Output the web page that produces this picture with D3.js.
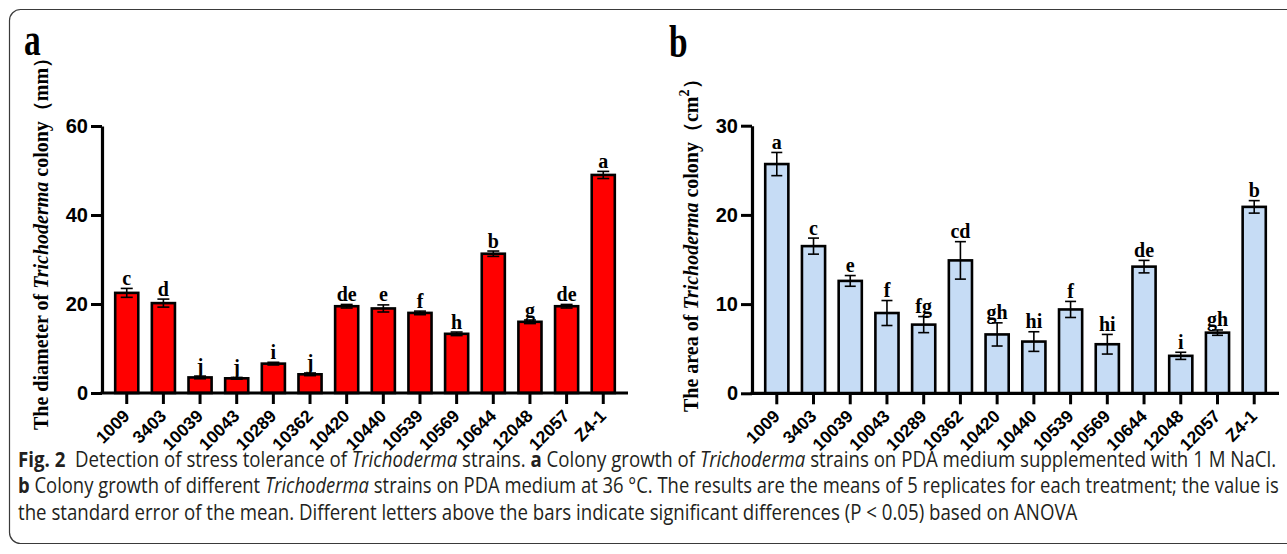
<!DOCTYPE html>
<html><head><meta charset="utf-8">
<script src="https://cdn.jsdelivr.net/npm/d3@7"></script>
<style>
html,body{margin:0;padding:0;background:#fff;}
svg{display:block;}
</style></head>
<body>
<svg id="chart" width="1287" height="554"></svg>
<script>
const categories = ["1009","3403","10039","10043","10289","10362","10420","10440","10539","10569","10644","12048","12057","Z4-1"];
const diameterMeans = [22.5,20.2,3.5,3.3,6.6,4.2,19.5,19.0,18.0,13.3,31.3,16.0,19.5,49.0];
const diameterErrors = [1.0,0.9,0.3,0.2,0.3,0.3,0.4,0.8,0.4,0.4,0.6,0.4,0.4,0.8];
const diameterLetters = ["c","d","j","j","i","j","de","e","f","h","b","g","de","a"];
const diameterTicks = [0,20,40,60];
const areaMeans = [25.7,16.5,12.6,9.0,7.7,14.9,6.6,5.8,9.4,5.5,14.2,4.2,6.8,20.9];
const areaErrors = [1.3,0.9,0.6,1.4,0.9,2.1,1.3,1.1,0.9,1.1,0.7,0.4,0.3,0.7];
const areaLetters = ["a","c","e","f","fg","cd","gh","hi","f","hi","de","i","gh","b"];
const areaTicks = [0,10,20,30];

const svg = d3.select("#chart");

// outer rounded frame
svg.append("rect").attr("x",9.5).attr("y",9.5).attr("width",1300).attr("height",534)
  .attr("rx",11).attr("fill","none").attr("stroke","#3a3a3a").attr("stroke-width",1.2);

const sansBold = "'Liberation Sans', Arial, sans-serif";
const serif = "'Liberation Serif', 'Times New Roman', serif";

function panel(opt){
  const g = svg.append("g");
  const x = d3.scaleBand().domain(categories).range([opt.x0, opt.x1]).paddingInner(0.37).paddingOuter(0.36);
  const y = d3.scaleLinear().domain([0, opt.ymax]).range([opt.yb, opt.yt]);

  g.selectAll("rect.bar").data(categories).enter().append("rect")
    .attr("x", d=>x(d)).attr("width", x.bandwidth())
    .attr("y", (d,i)=>y(opt.means[i])).attr("height",(d,i)=>y(0)-y(opt.means[i]))
    .attr("fill", opt.fill).attr("stroke","#000").attr("stroke-width",2.6);

  const eb = g.selectAll("g.eb").data(categories).enter().append("g");
  const cap = opt.cap;
  const cx = d=>x(d)+x.bandwidth()/2;
  eb.append("line").attr("x1",cx).attr("x2",cx)
    .attr("y1",(d,i)=>y(opt.means[i]+opt.errs[i])).attr("y2",(d,i)=>y(opt.means[i]-opt.errs[i]))
    .attr("stroke","#000").attr("stroke-width",1.6);
  eb.append("line").attr("x1",d=>cx(d)-cap/2).attr("x2",d=>cx(d)+cap/2)
    .attr("y1",(d,i)=>y(opt.means[i]+opt.errs[i])).attr("y2",(d,i)=>y(opt.means[i]+opt.errs[i]))
    .attr("stroke","#000").attr("stroke-width",1.6);
  eb.append("line").attr("x1",d=>cx(d)-cap/2).attr("x2",d=>cx(d)+cap/2)
    .attr("y1",(d,i)=>y(opt.means[i]-opt.errs[i])).attr("y2",(d,i)=>y(opt.means[i]-opt.errs[i]))
    .attr("stroke","#000").attr("stroke-width",1.6);

  g.selectAll("text.sig").data(categories).enter().append("text")
    .attr("x", cx)
    .attr("y", (d,i)=>y(opt.means[i]+opt.errs[i]) - 3.5)
    .attr("text-anchor","middle").attr("font-family",serif).attr("font-weight","bold")
    .attr("font-size",20).attr("fill","#000").text((d,i)=>opt.letters[i]);

  const ya = g.append("g").attr("transform",`translate(${opt.x0},0)`)
    .call(d3.axisLeft(y).tickValues(opt.ticks).tickSize(11).tickPadding(3).tickSizeOuter(0));
  ya.select(".domain").attr("stroke","#000").attr("stroke-width",3.2);
  ya.selectAll(".tick line").attr("stroke","#000").attr("stroke-width",3);
  ya.selectAll(".tick text").attr("font-family",sansBold).attr("font-weight","bold")
    .attr("font-size",20).attr("fill","#000");

  const xa = g.append("g").attr("transform",`translate(0,${opt.yb})`)
    .call(d3.axisBottom(x).tickSize(11).tickSizeOuter(0));
  xa.select(".domain").attr("stroke","#000").attr("stroke-width",3.2)
    .attr("d", `M${opt.x0-1.5},0H${opt.x1}`);
  xa.selectAll(".tick line").attr("stroke","#000").attr("stroke-width",3);
  xa.selectAll(".tick text").attr("font-family",sansBold).attr("font-weight","bold")
    .attr("font-size",17.5).attr("fill","#000")
    .attr("text-anchor","end").attr("dy",null).attr("y",null)
    .attr("transform","translate(4,24) rotate(-45)");

  const t = g.append("text").attr("font-family",serif).attr("font-weight","bold")
    .attr("font-size",opt.titleSize).attr("fill","#000")
    .attr("transform",`translate(${opt.titleX},${opt.titleY}) rotate(-90)`);
  opt.title(t);

  g.append("text").attr("font-family",serif).attr("font-weight","bold").attr("font-size",38)
    .attr("fill","#000").attr("transform",`translate(${opt.letterX},${opt.letterY}) scale(0.88,1.2)`)
    .text(opt.panelLetter);
}

panel({x0:102, x1:628, yb:393, yt:126, ymax:60, ticks:diameterTicks,
  means:diameterMeans, errs:diameterErrors, letters:diameterLetters, fill:"#ff0000", cap:12,
  titleX:48, titleY:430, titleSize:20, letterX:24, letterY:55, panelLetter:"a",
  title:t=>{ t.append("tspan").text("The diameter of ");
    t.append("tspan").attr("font-style","italic").text("Trichoderma");
    t.append("tspan").text(" colony（mm）"); }});

panel({x0:752, x1:1279, yb:393.3, yt:125.7, ymax:30, ticks:areaTicks,
  means:areaMeans, errs:areaErrors, letters:areaLetters, fill:"#c6dcf5", cap:11,
  titleX:698, titleY:412, titleSize:20, letterX:669, letterY:57, panelLetter:"b",
  title:t=>{ t.append("tspan").text("The area of ");
    t.append("tspan").attr("font-style","italic").text("Trichoderma");
    t.append("tspan").text(" colony（cm");
    t.append("tspan").attr("font-size",14).attr("dy",-9).text("2");
    t.append("tspan").attr("dy",9).text("）"); }});

// caption
const capFont = "'Open Sans', 'Noto Sans', sans-serif";
const capLines = [
  {y:467, x0:18, x1:1277, parts:[["Fig. 2","b"],["  Detection of stress tolerance of ",""],["Trichoderma","i"],[" strains. ",""],["a","b"],[" Colony growth of ",""],["Trichoderma","i"],[" strains on PDA medium supplemented with 1 M NaCl.",""]]},
  {y:493, x0:18, x1:1279, parts:[["b","b"],[" Colony growth of different ",""],["Trichoderma","i"],[" strains on PDA medium at 36 °C. The results are the means of 5 replicates for each treatment; the value is",""]]},
  {y:520, x0:18, x1:null, parts:[["the standard error of the mean. Different letters above the bars indicate significant differences (P < 0.05) based on ANOVA",""]]}
];
let baseK = 1;
capLines.forEach((l,idx)=>{
  const t = svg.append("text").attr("font-family",capFont).attr("font-size",21).attr("fill","#231f20")
    .style("white-space","pre");
  l.parts.forEach(p=>{
    const s = t.append("tspan").text(p[0]);
    if(p[1]==="b") s.attr("font-weight","bold");
    if(p[1]==="i") s.attr("font-style","italic");
  });
  const w = t.node().getComputedTextLength();
  const k = l.x1 ? (l.x1 - l.x0)/w : baseK;
  if(idx===0) baseK = k;
  t.attr("transform",`translate(${l.x0},${l.y}) scale(${k},1)`);
});
</script>
</body></html>
